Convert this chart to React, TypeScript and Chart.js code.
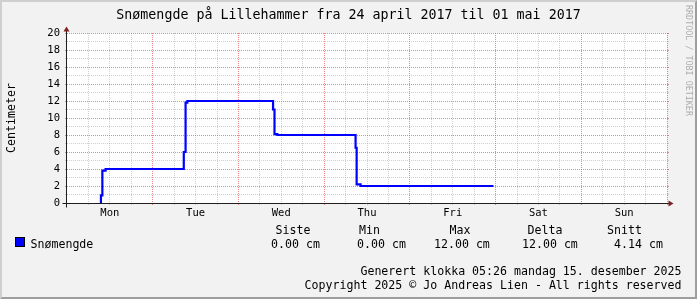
import React, { useEffect, useRef } from 'react';
import { Chart, registerables } from 'chart.js';

Chart.register(...registerables);

// ---------- data ----------
const TITLE = 'Snømengde på Lillehammer fra 24 april 2017 til 01 mai 2017';
const Y_TITLE = 'Centimeter';
const SERIES_NAME = 'Snømengde';
const DAY_LABELS = ['Mon', 'Tue', 'Wed', 'Thu', 'Fri', 'Sat', 'Sun'];
// hours since Monday 24 April 00:00
const HOURS = [9.4, 9.5, 9.9, 10.8, 32.7, 33.2, 33.7, 57.7, 58.1, 58.9, 80.8, 81.1, 82.2, 119.4];
const SNOW_CM = [0, 0.9, 3.8, 4.0, 6.0, 11.8, 12.0, 11.0, 8.1, 8.0, 6.5, 2.2, 2.0, 2.0];
const STAT_HEADERS = ['Siste', 'Min', 'Max', 'Delta', 'Snitt'];
const STAT_VALUES = [0.0, 0.0, 12.0, 12.0, 4.14];
const STAT_UNIT = 'cm';
const FOOTER_LINES = [
  'Generert klokka 05:26 mandag 15. desember 2025',
  'Copyright 2025 © Jo Andreas Lien - All rights reserved',
];
const WATERMARK = 'RRDTOOL / TOBI OETIKER';
const X_MIN = 0;
const X_MAX = 168;
const Y_MIN = 0;
const Y_MAX = 20;

// ---------- layout / style ----------
const W = 697;
const H = 299;
const PLOT_LEFT = 67;
const PLOT_RIGHT = 667;
const PLOT_TOP = 33;
const PLOT_BOTTOM = 203;
const MONO = "'DejaVu Sans Mono', monospace";
const BG = '#F2F2F2';
const SHADE_A = '#CFCFCF';
const SHADE_B = '#9E9E9E';
const MAJOR = 'rgba(222,79,79,0.68)';
const MINOR = 'rgba(143,143,143,0.42)';
const AXIS_COLOR = '#1F1F1F';
const ARROW_COLOR = '#801F1F';
const LINE_COLOR = '#0000FF';

const HEADER_X = [275.5, 359, 449.5, 527.5, 607];
const VALUE_X = [271, 357, 434, 522, 614];

const xTicks: number[] = [];
for (let h = 6; h <= X_MAX; h += 6) xTicks.push(h);

const rrdPlugin = {
  id: 'rrdDecor',
  beforeDraw(chart: any) {
    const { ctx, chartArea: a } = chart;
    ctx.save();
    ctx.fillStyle = BG;
    ctx.fillRect(0, 0, W, H);
    ctx.fillStyle = SHADE_A;
    ctx.beginPath();
    ctx.moveTo(0, H);
    ctx.lineTo(2, H - 2);
    ctx.lineTo(2, 2);
    ctx.lineTo(W - 2, 2);
    ctx.lineTo(W, 0);
    ctx.lineTo(0, 0);
    ctx.closePath();
    ctx.fill();
    ctx.fillStyle = SHADE_B;
    ctx.beginPath();
    ctx.moveTo(2, H - 2);
    ctx.lineTo(W - 2, H - 2);
    ctx.lineTo(W - 2, 2);
    ctx.lineTo(W, 0);
    ctx.lineTo(W, H);
    ctx.lineTo(0, H);
    ctx.closePath();
    ctx.fill();
    ctx.fillStyle = '#FFFFFF';
    ctx.fillRect(a.left, a.top, a.right - a.left, a.bottom - a.top);
    ctx.restore();
  },
  afterDraw(chart: any) {
    const { ctx, chartArea: a } = chart;
    ctx.save();
    // axes
    ctx.strokeStyle = AXIS_COLOR;
    ctx.lineWidth = 1;
    ctx.beginPath();
    ctx.moveTo(a.left - 4.5, a.bottom + 0.5);
    ctx.lineTo(a.right + 3.5, a.bottom + 0.5);
    ctx.moveTo(a.left - 0.5, a.bottom + 4.5);
    ctx.lineTo(a.left - 0.5, a.top - 3.5);
    ctx.stroke();
    // arrows
    ctx.fillStyle = ARROW_COLOR;
    const ax = a.right + 1.5;
    const ayy = a.bottom + 0.5;
    ctx.beginPath();
    ctx.moveTo(ax, ayy - 3);
    ctx.lineTo(ax, ayy + 3);
    ctx.lineTo(ax + 5, ayy);
    ctx.closePath();
    ctx.fill();
    const bx = a.left - 0.5;
    const by = a.top - 1.5;
    ctx.beginPath();
    ctx.moveTo(bx - 3, by);
    ctx.lineTo(bx + 3, by);
    ctx.lineTo(bx, by - 5);
    ctx.closePath();
    ctx.fill();

    // title
    ctx.fillStyle = '#000';
    ctx.font = `13.3px ${MONO}`;
    ctx.textAlign = 'center';
    ctx.textBaseline = 'alphabetic';
    ctx.fillText(TITLE, W / 2, 18.5);

    // y title
    ctx.save();
    ctx.font = `11.6px ${MONO}`;
    ctx.translate(14.5, (a.top + a.bottom) / 2);
    ctx.rotate(-Math.PI / 2);
    ctx.textAlign = 'center';
    ctx.fillText(Y_TITLE, 0, 0);
    ctx.restore();

    // watermark
    ctx.save();
    ctx.fillStyle = 'rgba(0,0,0,0.3)';
    ctx.font = `8.4px ${MONO}`;
    ctx.translate(688.5, 5);
    ctx.rotate(Math.PI / 2);
    ctx.textAlign = 'left';
    ctx.textBaseline = 'middle';
    ctx.fillText(WATERMARK, 0, 0);
    ctx.restore();

    // legend
    ctx.font = `11.6px ${MONO}`;
    ctx.textAlign = 'left';
    ctx.fillStyle = LINE_COLOR;
    ctx.fillRect(15.5, 237.5, 9, 9);
    ctx.strokeStyle = '#000';
    ctx.strokeRect(15.5, 237.5, 9, 9);
    ctx.fillStyle = '#000';
    ctx.fillText(SERIES_NAME, 30.5, 247.5);
    STAT_HEADERS.forEach((t, i) => ctx.fillText(t, HEADER_X[i], 233.5));
    STAT_VALUES.forEach((v, i) => ctx.fillText(`${v.toFixed(2)} ${STAT_UNIT}`, VALUE_X[i], 247.5));

    // footer
    ctx.textAlign = 'right';
    ctx.fillText(FOOTER_LINES[0], 681.5, 275);
    ctx.fillText(FOOTER_LINES[1], 681.5, 289);
    ctx.restore();
  },
};

const gridColor = (major: boolean) => (major ? MAJOR : MINOR);

export default function App() {
  const ref = useRef<HTMLCanvasElement>(null);
  useEffect(() => {
    document.body.style.margin = '0';
    const canvas = ref.current;
    if (!canvas) return;
    const chart = new Chart(canvas, {
      type: 'line',
      data: {
        datasets: [
          {
            label: SERIES_NAME,
            data: HOURS.map((h, i) => ({ x: h, y: SNOW_CM[i] })),
            stepped: true,
            borderColor: LINE_COLOR,
            borderWidth: 2.2,
            pointRadius: 0,
            fill: false,
            borderJoinStyle: 'miter',
            borderCapStyle: 'butt',
          },
        ],
      },
      options: {
        responsive: false,
        animation: false,
        devicePixelRatio: 1,
        events: [],
        layout: { padding: { top: PLOT_TOP, left: 0, right: 0, bottom: 0 } },
        plugins: {
          legend: { display: false },
          title: { display: false },
          tooltip: { enabled: false },
        },
        scales: {
          x: {
            type: 'linear',
            position: 'bottom',
            min: X_MIN,
            max: X_MAX,
            afterBuildTicks: (s: any) => {
              s.ticks = xTicks.map((v) => ({ value: v }));
            },
            afterFit: (s: any) => {
              s.height = H - PLOT_BOTTOM;
            },
            ticks: {
              autoSkip: false,
              maxRotation: 0,
              minRotation: 0,
              padding: 2,
              color: '#000',
              font: { family: MONO, size: 10.5 },
              callback: (v: any) => (Number(v) % 24 === 12 ? DAY_LABELS[Math.floor(Number(v) / 24)] : ''),
            },
            grid: {
              color: (c: any) => gridColor(c.tick && c.tick.value % 24 === 0),
              lineWidth: 1,
              tickLength: 2,
              drawTicks: true,
            },
            border: { display: false, dash: [1, 1] },
          },
          y: {
            type: 'linear',
            position: 'left',
            min: Y_MIN,
            max: Y_MAX,
            afterFit: (s: any) => {
              s.width = PLOT_LEFT;
            },
            ticks: {
              stepSize: 1,
              autoSkip: false,
              padding: 5,
              color: '#000',
              font: { family: MONO, size: 10.5 },
              callback: (v: any) => (Number(v) % 2 === 0 ? String(v) : ''),
            },
            grid: {
              color: (c: any) => gridColor(c.tick && c.tick.value % 2 === 0),
              lineWidth: 1,
              tickLength: 2,
            },
            border: { display: false, dash: [1, 1] },
          },
          y2: {
            type: 'linear',
            position: 'right',
            min: Y_MIN,
            max: Y_MAX,
            afterFit: (s: any) => {
              s.width = W - PLOT_RIGHT;
            },
            ticks: {
              stepSize: 1,
              autoSkip: false,
              padding: 0,
              font: { family: MONO, size: 10.5 },
              callback: () => '',
            },
            grid: {
              color: (c: any) => gridColor(c.tick && c.tick.value % 2 === 0),
              lineWidth: 1,
              tickLength: 2,
              drawOnChartArea: false,
            },
            border: { display: false },
          },
        },
      },
      plugins: [rrdPlugin],
    } as any);
    return () => chart.destroy();
  }, []);
  return <canvas ref={ref} width={W} height={H} style={{ display: 'block', width: W, height: H }} />;
}
